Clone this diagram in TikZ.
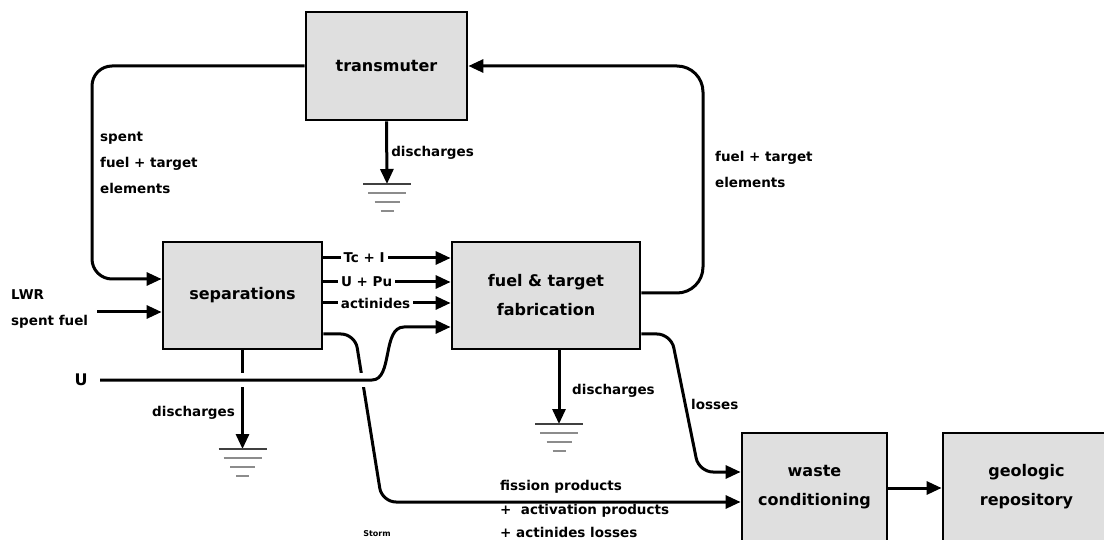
\documentclass[tikz,border=0pt]{standalone}
\usepackage{fontspec}
\setmainfont{DejaVu Sans}
\usetikzlibrary{arrows.meta}
\begin{document}
\begin{tikzpicture}[x=1pt,y=-1pt,
  box/.style={draw, line width=2.8pt, fill=gray!25, align=center, inner sep=0pt,
    font=\bfseries\fontsize{16}{29}\selectfont},
  flow/.style={line width=3pt, -{Triangle[length=15pt,width=13pt]}},
  lbl/.style={font=\bfseries\fontsize{13.5}{26}\selectfont, inner sep=1pt, align=left},
  onl/.style={lbl, fill=white, inner xsep=3pt, inner ysep=0pt},
  ground/.pic={
    \draw[black!75, line width=1.8pt] (-24,0) -- (24,0);
    \draw[black!45, line width=1.6pt] (-19,9) -- (19,9);
    \draw[black!45, line width=1.6pt] (-12.5,18) -- (12.5,18);
    \draw[black!45, line width=1.6pt] (-6.5,27) -- (6.5,27);
  }]
\useasboundingbox (0,0) rectangle (1104,540);
\clip (0,0) rectangle (1104,540);

% boxes
\node[box, minimum width=161pt, minimum height=108pt] (trans) at (386.5,66) {transmuter};
\node[box, minimum width=159pt, minimum height=107pt] (sep) at (242.5,295.5) {separations};
\node[box, minimum width=188pt, minimum height=107pt] (fab) at (546,295.5) {fuel \& target\\fabrication};
\node[box, minimum width=145pt, minimum height=108pt] (waste) at (814.5,487) {waste\\conditioning};
\node[box, minimum width=167pt, minimum height=108pt] (geo) at (1026.5,487) {geologic\\repository};

% text labels
\node[lbl, anchor=west] (spentlbl) at (99,163) {spent\\fuel + target\\elements};
\node[lbl, anchor=west] (fuellbl) at (714,169) {fuel + target\\elements};
\node[lbl, anchor=west] (lwr) at (10,308.5) {LWR\\spent fuel};
\node[font=\bfseries\fontsize{16}{16}\selectfont, inner sep=0pt] (ulbl) at (81,380) {U};
\node[lbl, anchor=west, font=\bfseries\fontsize{13.5}{23.5}\selectfont] (fisslbl) at (499,509) {fission products\\+\ \ activation products\\+ actinides losses};
\node[font=\bfseries\fontsize{8}{8}\selectfont, inner sep=0pt] (storm) at (377,534) {Storm};

% transmuter loop
\draw[flow, rounded corners=20pt] (trans.west) -- (92,66) -- (92,279) -- ([yshift=16.5pt]sep.west);
\draw[flow, rounded corners=26pt] ([yshift=2.5pt]fab.east) -- (703,293) -- (703,66) -- (trans.east);

% transmuter discharges
\coordinate (g0) at (387,184);
\draw[flow] (trans.south) -- node[lbl, right, pos=0.5, xshift=2pt] (d0) {discharges} (g0);
\pic at (g0) {ground};

% LWR
\coordinate (lwrend) at (97,312);
\draw[flow] (lwrend) -- ([yshift=-16.5pt]sep.west);

% separations outputs
\draw[flow] ([yshift=37.5pt]sep.east) -- node[onl, pos=0.32] (o1) {Tc + I} ([yshift=37.5pt]fab.west);
\draw[flow] ([yshift=13.5pt]sep.east) -- node[onl, pos=0.34] (o2) {U + Pu} ([yshift=13.5pt]fab.west);
\draw[flow] ([yshift=-7.5pt]sep.east) -- node[onl, pos=0.41] (o3) {actinides} ([yshift=-7.5pt]fab.west);

% separations discharges
\coordinate (g1) at (242.5,449);
\draw[flow] (sep.south) -- (g1);
\node[lbl, anchor=east] (d1) at (236,413) {discharges};
\pic at (g1) {ground};

% fission products line
\draw[flow, rounded corners=14pt] ([yshift=-38.5pt]sep.east) -- (355,334) -- (382,502) -- ([yshift=-15pt]waste.west);

% U line with gap
\coordinate (ustart) at (100,380);
\coordinate (ubend) at (372,380);
\draw[white, line width=14pt] (ustart) -- (ubend);
\draw[flow] (ustart) -- (ubend) .. controls (393,380) and (382,327) .. (404,327) -- ([yshift=-31.5pt]fab.west);

% fab discharges
\coordinate (g2) at (559,424);
\draw[flow] (fab.south -| g2) -- (g2);
\node[lbl, anchor=west] (d2) at (571,391) {discharges};
\pic at (g2) {ground};

% losses
\draw[flow, rounded corners=14pt] ([yshift=-38.5pt]fab.east) -- (671,334) -- (699,472) -- ([yshift=15pt]waste.west);
\node[lbl, anchor=west] (losslbl) at (690,404) {losses};

% waste -> geologic
\draw[flow] ([yshift=-1pt]waste.east) -- ([yshift=-1pt]geo.west);
\end{tikzpicture}
\end{document}
